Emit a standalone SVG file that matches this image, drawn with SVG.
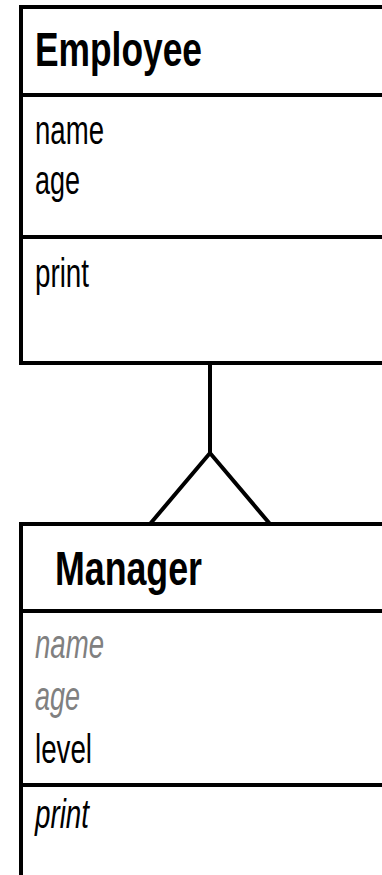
<svg xmlns="http://www.w3.org/2000/svg" width="382" height="875" viewBox="0 0 382 875">
<style>
.box{fill:#fff;stroke:#000;stroke-width:4}
.div{stroke:#000;stroke-width:4}
.conn{fill:none;stroke:#000;stroke-width:4;stroke-linejoin:miter}
.title{font-family:"Liberation Sans",Arial,sans-serif;font-weight:bold;font-size:48px;fill:#000}
.attr{font-family:"Liberation Sans",Arial,sans-serif;font-size:40px;fill:#000}
.inh{font-style:italic;fill:#808080}
.it{font-style:italic}
</style>
<rect width="382" height="875" fill="#fff"/>
<g id="employee">
<rect class="box" x="21" y="7" width="400" height="356"/>
<line class="div" x1="21" y1="95" x2="400" y2="95"/>
<line class="div" x1="21" y1="237" x2="400" y2="237"/>
<text class="title" x="35" y="66" textLength="167" lengthAdjust="spacingAndGlyphs">Employee</text>
<text class="attr" x="35" y="144" textLength="69" lengthAdjust="spacingAndGlyphs">name</text>
<text class="attr" x="35" y="194" textLength="45" lengthAdjust="spacingAndGlyphs">age</text>
<text class="attr" x="35" y="287" textLength="54" lengthAdjust="spacingAndGlyphs">print</text>
</g>
<g id="manager">
<rect class="box" x="21" y="524" width="400" height="400"/>
<line class="div" x1="21" y1="611" x2="400" y2="611"/>
<line class="div" x1="21" y1="785" x2="400" y2="785"/>
<text class="title" x="55" y="585" textLength="147" lengthAdjust="spacingAndGlyphs">Manager</text>
<text class="attr inh" x="35" y="658" textLength="69" lengthAdjust="spacingAndGlyphs">name</text>
<text class="attr inh" x="35" y="710" textLength="45" lengthAdjust="spacingAndGlyphs">age</text>
<text class="attr" x="35" y="763" textLength="57" lengthAdjust="spacingAndGlyphs">level</text>
<text class="attr it" x="35" y="828" textLength="54" lengthAdjust="spacingAndGlyphs">print</text>
</g>
<g id="connectors">
<line class="conn" x1="210" y1="363" x2="210" y2="453"/>
<path class="conn" d="M150,524 L210,453 L270,524"/>
</g>
</svg>
